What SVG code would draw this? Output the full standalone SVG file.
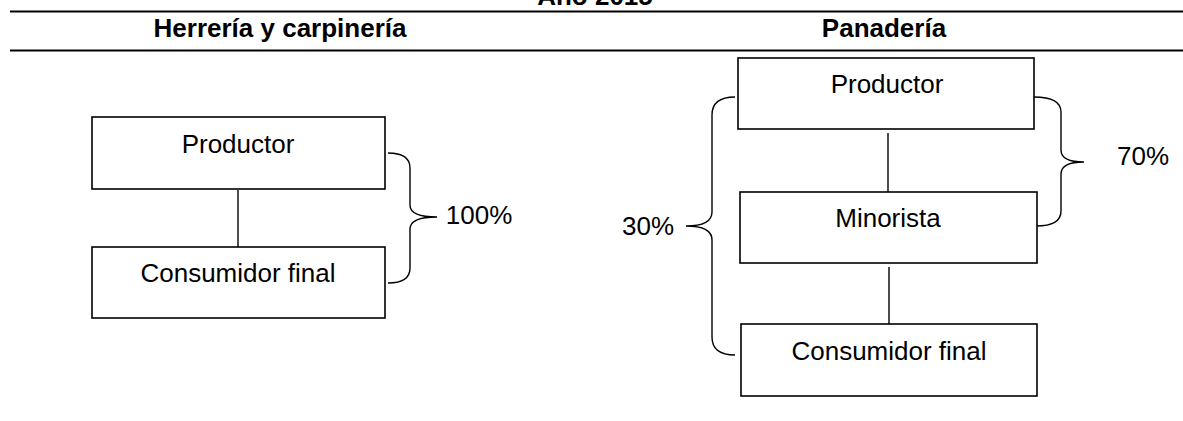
<svg xmlns="http://www.w3.org/2000/svg" width="1183" height="421" viewBox="0 0 1183 421">
<style>
.box{fill:#fff;stroke:#000;stroke-width:1.6}
.t{font-family:"Liberation Sans",Arial,sans-serif;font-size:26px;fill:#000;text-anchor:middle}
.h{font-family:"Liberation Sans",Arial,sans-serif;font-size:26px;font-weight:bold;fill:#000;text-anchor:middle}
.rule{stroke:#000;stroke-width:2}
.conn{fill:none;stroke:#000;stroke-width:1.4}
</style>
<rect width="1183" height="421" fill="#fff"/>
<g id="header">
<text class="h" x="595" y="5">Año 2015</text>
<line class="rule" x1="10" y1="11.5" x2="1183" y2="11.5"/>
<text class="h" x="280" y="37">Herrería y carpinería</text>
<text class="h" x="884" y="37">Panadería</text>
<line class="rule" x1="10" y1="50.5" x2="1183" y2="50.5"/>
</g>
<g id="connectors">
<line class="conn" x1="238" y1="190" x2="238" y2="247"/>
<line class="conn" x1="888" y1="133" x2="888" y2="192"/>
<line class="conn" x1="889" y1="267" x2="889" y2="324"/>
<path class="conn" d="M388,153 Q410,153 410,168 L410,205 Q410,217 437,217 Q410,217 410,229 L410,268 Q410,283 388,283"/>
<path class="conn" d="M1034,97 Q1061,97 1061,112 L1061,150 Q1061,162 1084,162 Q1061,162 1061,174 L1061,211 Q1061,226 1036,226"/>
<path class="conn" d="M735,97 Q712,97 712,115 L712,212 Q712,226 686,226 Q712,226 712,240 L712,337 Q712,355 735,355"/>
</g>
<g id="l-productor">
<rect class="box" x="92" y="117" width="293" height="72"/>
<text class="t" x="238" y="153">Productor</text>
</g>
<g id="l-consumidor">
<rect class="box" x="92" y="247" width="293" height="71"/>
<text class="t" x="238" y="282">Consumidor final</text>
</g>
<g id="l-pct">
<text class="t" x="479" y="224">100%</text>
</g>
<g id="r-productor">
<rect class="box" x="738" y="58" width="296" height="71"/>
<text class="t" x="887" y="93">Productor</text>
</g>
<g id="r-minorista">
<rect class="box" x="740" y="192" width="297" height="71"/>
<text class="t" x="888" y="227">Minorista</text>
</g>
<g id="r-consumidor">
<rect class="box" x="741" y="324" width="296" height="72"/>
<text class="t" x="889" y="360">Consumidor final</text>
</g>
<g id="r-pct30">
<text class="t" x="648" y="235">30%</text>
</g>
<g id="r-pct70">
<text class="t" x="1143" y="165">70%</text>
</g>
</svg>
